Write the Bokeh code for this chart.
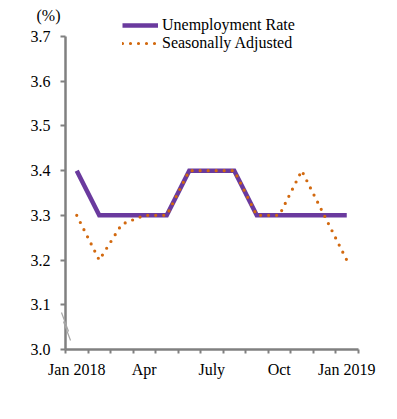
from bokeh.plotting import figure
from bokeh.models import (Range1d, FixedTicker, Legend, LegendItem, Label, Arrow)
from bokeh.embed import file_html
from bokeh.resources import INLINE

months = ["Jan 2018", "Feb", "Mar", "Apr", "May", "Jun", "July", "Aug", "Sep",
          "Oct", "Nov", "Dec", "Jan 2019"]
unemployment = [3.4, 3.3, 3.3, 3.3, 3.3, 3.4, 3.4, 3.4, 3.3, 3.3, 3.3, 3.3, 3.3]
seasonal = [3.3, 3.2, 3.28, 3.3, 3.3, 3.4, 3.4, 3.4, 3.3, 3.3, 3.4, 3.3, 3.2]
label_months = {0: "Jan 2018", 3: "Apr", 6: "July", 9: "Oct", 12: "Jan 2019"}
y_ticks = [3.0, 3.1, 3.2, 3.3, 3.4, 3.5, 3.6, 3.7]
y_min, y_max = 3.0, 3.7

FONT = "Liberation Serif"
PURPLE = "#6A3A9E"
ORANGE = "#D2690F"
GRAY = "#808080"

# layout (pixels inside the figure)
W, H = 381, 403
AX_LEFT, AX_RIGHT = 65, 357.5      # x extent of plotting area
AX_TOP, AX_BOTTOM = 36, 349        # y of y_max and y_min

n = len(months)
x = list(range(n))
xpx = (AX_RIGHT - AX_LEFT) / n                 # px per month
ypx = (AX_BOTTOM - AX_TOP) / (y_max - y_min)   # px per unit
x0 = -0.5 - AX_LEFT / xpx
x1 = -0.5 + (W - AX_LEFT) / xpx
y0 = y_min - (H - AX_BOTTOM) / ypx
y1 = y_min + AX_BOTTOM / ypx

p = figure(width=W, height=H, output_backend="svg", toolbar_location=None,
           x_range=Range1d(x0, x1), y_range=Range1d(y0, y1))
p.min_border_left = 0
p.min_border_right = 0
p.min_border_top = 0
p.min_border_bottom = 0
p.outline_line_color = None
p.xgrid.visible = False
p.ygrid.visible = False
p.background_fill_color = "white"
p.border_fill_color = "white"

r1 = p.line(x, unemployment, line_color=PURPLE, line_width=4.5, line_join="miter")
r2 = p.line(x, seasonal, line_color=ORANGE, line_width=3.2, line_dash="0 8",
            line_cap="round")

# x axis
xa = p.xaxis[0]
xa.fixed_location = y_min
xa.bounds = (-0.5, n - 0.5)
xa.ticker = FixedTicker(ticks=list(label_months.keys()),
                        minor_ticks=[i - 0.5 for i in range(n + 1)])
xa.major_label_overrides = {k: v for k, v in label_months.items()}
xa.major_tick_line_color = None
xa.major_tick_out = 4
xa.major_tick_in = 0
xa.minor_tick_line_color = GRAY
xa.minor_tick_line_width = 2
xa.minor_tick_out = 4
xa.minor_tick_in = 0
xa.axis_line_color = GRAY
xa.axis_line_width = 2.5
xa.major_label_standoff = 7
xa.major_label_text_font = FONT
xa.major_label_text_font_size = "16px"
xa.major_label_text_color = "black"

# y axis
ya = p.yaxis[0]
ya.fixed_location = -0.5
ya.bounds = (y_min, y_max)
ya.ticker = FixedTicker(ticks=y_ticks)
ya.major_label_overrides = {t: f"{t:.1f}" for t in y_ticks}
ya.minor_tick_line_color = None
ya.major_tick_line_color = GRAY
ya.major_tick_line_width = 2
ya.major_tick_out = 5
ya.major_tick_in = 0
ya.axis_line_color = GRAY
ya.axis_line_width = 2.5
ya.major_label_standoff = 10
ya.major_label_text_font = FONT
ya.major_label_text_font_size = "16px"
ya.major_label_text_color = "black"

# axis break marks (two short diagonal strokes across the y axis)
for (sx, sy, ex, ey) in [(61, 312, 68, 331), (63, 321, 70, 340)]:
    p.add_layout(Arrow(end=None,
                       x_start=-0.5 + (sx - AX_LEFT) / xpx,
                       y_start=y_min + (AX_BOTTOM - sy) / ypx,
                       x_end=-0.5 + (ex - AX_LEFT) / xpx,
                       y_end=y_min + (AX_BOTTOM - ey) / ypx,
                       line_color="#A6A6A6", line_width=1.2, level="overlay"))

# unit label
p.add_layout(Label(x=-0.5 + (48 - AX_LEFT) / xpx, y=y_min + (AX_BOTTOM - 15) / ypx,
                   text="(%)", text_font=FONT,
                   text_font_size="16px", text_align="center",
                   text_baseline="middle", text_color="black"))

legend = Legend(items=[LegendItem(label="Unemployment Rate", renderers=[r1]),
                       LegendItem(label="Seasonally Adjusted", renderers=[r2])],
                location=(122, H - 52), orientation="vertical",
                label_text_font=FONT, label_text_font_size="16px",
                label_text_color="black",
                glyph_width=36, glyph_height=18, label_height=18,
                label_standoff=4, spacing=0, padding=0, margin=0,
                border_line_color=None, background_fill_alpha=0)
p.add_layout(legend, "center")

open("out.html", "w").write(file_html(p, INLINE))
